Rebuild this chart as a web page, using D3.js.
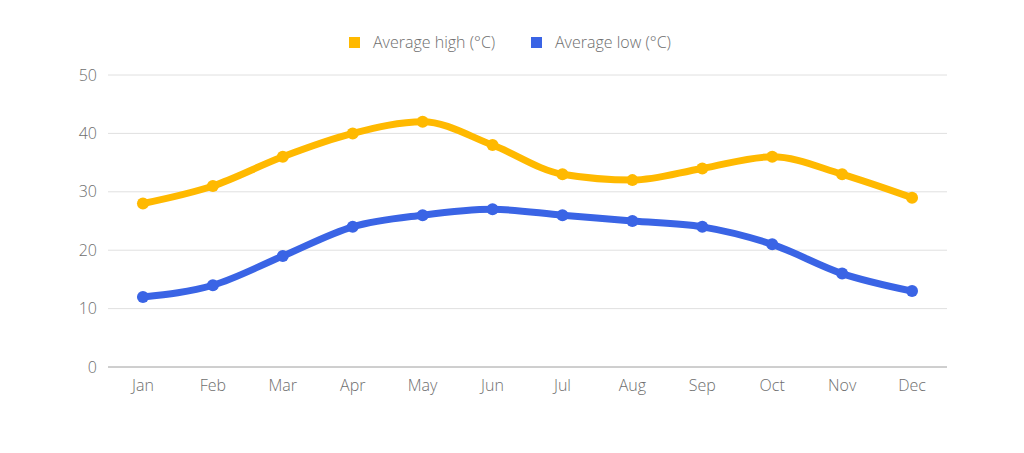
<!DOCTYPE html>
<html><head><meta charset="utf-8">
<script src="https://cdn.jsdelivr.net/npm/d3@7"></script>
<style>
body{margin:0;background:#fff;}
text{font-family:"Open Sans",sans-serif;font-weight:300;}
</style></head>
<body><svg id="c" width="1024" height="453"></svg>
<script>
const months = ["Jan","Feb","Mar","Apr","May","Jun","Jul","Aug","Sep","Oct","Nov","Dec"];
const highs = [28,31,36,40,42,38,33,32,34,36,33,29];
const lows = [12,14,19,24,26,27,26,25,24,21,16,13];
const yTicks = [0,10,20,30,40,50];
const seriesNames = ["Average high (°C)","Average low (°C)"];
const colors = ["#FFB900","#3A64E5"];

(function(){
const svg = d3.select("#c");
const pl = 108, pr = 947, pt = 75, pb = 367;
const x = d3.scaleBand().domain(months).range([pl,pr]);
const y = d3.scaleLinear().domain([0,50]).range([pb,pt]);

svg.append("g").selectAll("line").data(yTicks.filter(d=>d>0)).join("line")
  .attr("x1",pl).attr("x2",pr)
  .attr("y1",d=>y(d)).attr("y2",d=>y(d))
  .attr("stroke","#e0e0e0").attr("stroke-width",1);
svg.append("line").attr("x1",pl).attr("x2",pr).attr("y1",y(0)).attr("y2",y(0))
  .attr("stroke","#9e9e9e").attr("stroke-width",1);

svg.append("g").selectAll("text").data(yTicks).join("text")
  .attr("x",97).attr("y",d=>y(d)).attr("dy","0.35em")
  .attr("text-anchor","end").attr("font-size",16).attr("fill","#6e6e6e")
  .text(d=>d);
svg.append("g").selectAll("text").data(months).join("text")
  .attr("x",d=>x(d)+x.bandwidth()/2).attr("y",391)
  .attr("text-anchor","middle").attr("font-size",16).attr("fill","#6e6e6e")
  .text(d=>d);

const series = [highs,lows];
const line = d3.line().x((d,i)=>x(months[i])+x.bandwidth()/2).y(d=>y(d)).curve(d3.curveMonotoneX);
series.forEach((s,k)=>{
  const g = svg.append("g");
  g.append("path").datum(s).attr("d",line).attr("fill","none")
    .attr("stroke",colors[k]).attr("stroke-width",7).attr("stroke-linejoin","round").attr("stroke-linecap","round");
  g.selectAll("circle").data(s).join("circle")
    .attr("cx",(d,i)=>x(months[i])+x.bandwidth()/2).attr("cy",d=>y(d)).attr("r",6)
    .attr("fill",colors[k]);
});

const legX = [349,531];
const lg = svg.append("g");
seriesNames.forEach((n,k)=>{
  lg.append("rect").attr("x",legX[k]).attr("y",37).attr("width",11).attr("height",11).attr("fill",colors[k]);
  lg.append("text").attr("x",legX[k]+24).attr("y",42.5).attr("dy","0.35em")
    .attr("font-size",16).attr("fill","#6e6e6e").text(n);
});
})();
</script></body></html>
